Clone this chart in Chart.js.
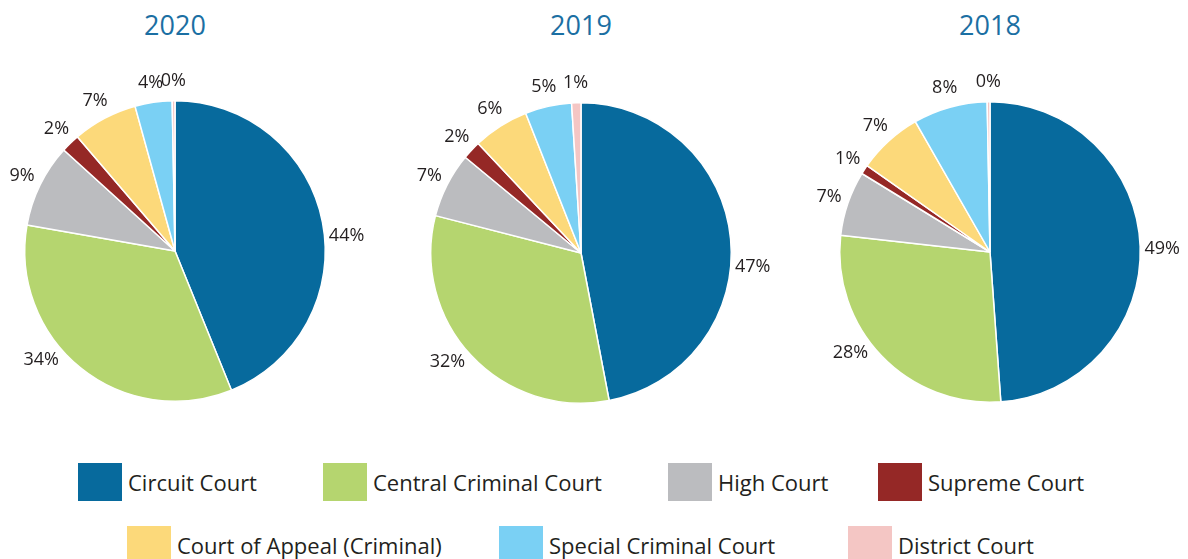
<!DOCTYPE html>
<html>
<head>
<meta charset="utf-8">
<script src="https://cdn.jsdelivr.net/npm/chart.js@4/dist/chart.umd.min.js"></script>
<style>
  body { margin: 0; width: 1188px; height: 559px; overflow: hidden; background: #fff; position: relative; font-family: "Open Sans", sans-serif; }
  .title { position: absolute; top: 6px; width: 200px; text-align: center; font-size: 27px; color: #1b6fa3; }
  .pie { position: absolute; width: 400px; height: 400px; }
  .leg { position: absolute; display: flex; align-items: center; font-size: 22px; color: #231f20; white-space: nowrap; }
  .leg span.sw { display: inline-block; width: 44px; height: 38px; margin-right: 6px; }
</style>
</head>
<body>
<div id="root"></div>
<script>
// Courts, in slice order (clockwise from 12 o'clock)
const courts = ['Circuit Court', 'Central Criminal Court', 'High Court', 'Supreme Court',
  'Court of Appeal (Criminal)', 'Special Criminal Court', 'District Court'];
const colors = ['#076a9d', '#b5d56f', '#bbbcbf', '#952826', '#fcd97a', '#7ad0f4', '#f4c6c4'];

// Share of cases (%) per year
const years = ['2020', '2019', '2018'];
const values2020 = [44, 34, 9, 2, 7, 4, 0.3];
const values2019 = [47, 32, 7, 2, 6, 5, 1];
const values2018 = [49, 28, 7, 1, 7, 8, 0.3];
const pctLabels2020 = ['44%', '34%', '9%', '2%', '7%', '4%', '0%'];
const pctLabels2019 = ['47%', '32%', '7%', '2%', '6%', '5%', '1%'];
const pctLabels2018 = ['49%', '28%', '7%', '1%', '7%', '8%', '0%'];

const centersX = [175, 581, 990];
const centersY = [251, 253, 252];
const allValues = [values2020, values2019, values2018];
const allLabels = [pctLabels2020, pctLabels2019, pctLabels2018];
// label angle nudges (degrees, clockwise) for the two big slices
const labelNudge = [[6, 12], [10, 4], [1, 8]];

// Legend layout: [row, x of swatch]
const legendPos = [[0, 78], [0, 323], [0, 668], [0, 878], [1, 127], [1, 499], [1, 848]];

// Draw the % text just outside each slice
const outsideLabels = {
  id: 'outsideLabels',
  afterDatasetsDraw(chart) {
    const ctx = chart.ctx;
    const meta = chart.getDatasetMeta(0);
    const opts = chart.options.plugins.outsideLabels;
    ctx.save();
    ctx.font = '18px "Open Sans", sans-serif';
    ctx.fillStyle = '#231f20';
    ctx.textAlign = 'center';
    ctx.textBaseline = 'middle';
    meta.data.forEach((arc, i) => {
      const nudge = (opts.nudge[i] || 0) * Math.PI / 180;
      const mid = (arc.startAngle + arc.endAngle) / 2 + nudge;
      const r = arc.outerRadius + (i < 2 ? 22 : 20);
      ctx.fillText(opts.texts[i], arc.x + Math.cos(mid) * r, arc.y + Math.sin(mid) * r);
    });
    ctx.restore();
  }
};

const root = document.getElementById('root');

years.forEach((year, k) => {
  const t = document.createElement('div');
  t.className = 'title';
  t.textContent = year;
  t.style.left = (centersX[k] - 100) + 'px';
  root.appendChild(t);

  const wrap = document.createElement('div');
  wrap.className = 'pie';
  wrap.style.left = (centersX[k] - 200) + 'px';
  wrap.style.top = (centersY[k] - 200) + 'px';
  const canvas = document.createElement('canvas');
  wrap.appendChild(canvas);
  root.appendChild(wrap);

  new Chart(canvas, {
    type: 'pie',
    data: {
      labels: courts,
      datasets: [{
        data: allValues[k],
        backgroundColor: colors,
        borderColor: '#fff',
        borderWidth: 1.5
      }]
    },
    options: {
      responsive: true,
      maintainAspectRatio: false,
      animation: false,
      layout: { padding: 49 },
      plugins: {
        legend: { display: false },
        tooltip: { enabled: false },
        outsideLabels: { texts: allLabels[k], nudge: labelNudge[k] }
      }
    },
    plugins: [outsideLabels]
  });
});

// Shared legend
courts.forEach((name, i) => {
  const [row, x] = legendPos[i];
  const item = document.createElement('div');
  item.className = 'leg';
  item.style.left = x + 'px';
  item.style.top = (row === 0 ? 463 : 526) + 'px';
  item.innerHTML = '<span class="sw" style="background:' + colors[i] + '"></span>' + name;
  root.appendChild(item);
});
</script>
</body>
</html>
